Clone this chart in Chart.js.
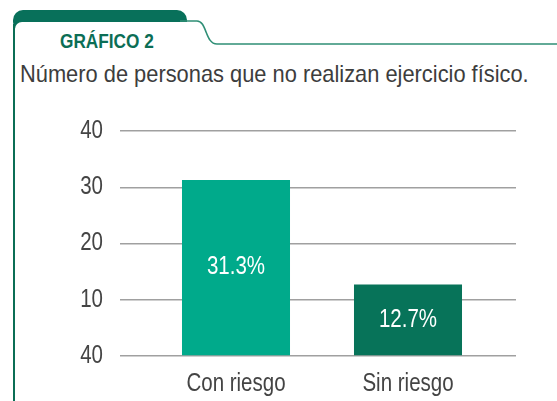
<!DOCTYPE html>
<html>
<head>
<meta charset="utf-8">
<script src="https://cdn.jsdelivr.net/npm/chart.js@4"></script>
<style>
    body { margin: 0; background: #fff; }
    #wrap { position: relative; width: 557px; height: 401px; overflow: hidden; }
    #frame { position: absolute; left: 0; top: 0; }
    #chart { position: absolute; left: 0; top: 0; }
    .txt { position: absolute; white-space: nowrap; font-family: "Liberation Sans", Arial, sans-serif; transform-origin: 0 0; }
    #kicker { left: 60px; top: 30px; font-size: 21px; line-height: 21px; font-weight: bold; color: #0b6e55; transform: scaleX(0.82); }
    #heading { left: 20px; top: 62px; font-size: 24px; line-height: 24px; color: #3d3d3d; transform: scaleX(0.91); }
</style>
</head>
<body>
<div id="wrap">
    <svg id="frame" width="557" height="401">
        <rect x="13" y="10" width="174" height="22" rx="10" fill="#08705a"></rect>
        <rect x="15" y="22" width="200" height="40" rx="7" fill="#fff"></rect>
        <line x1="14" y1="24" x2="14" y2="401" stroke="#0b6e55" stroke-width="2"></line>
        <path d="M180,21 L197,21 C207,21 205,44 217,44 L557,44" fill="none" stroke="#2f8f76" stroke-width="1.6"></path>
    </svg>
    <div class="txt" id="kicker">GRÁFICO 2</div>
    <div class="txt" id="heading">Número de personas que no realizan ejercicio físico.</div>
    <canvas id="chart" width="557" height="401"></canvas>
</div>
<script>
// Chart data
const categories = ['Con riesgo', 'Sin riesgo'];
const values = [31.3, 12.7];
const valueLabels = ['31.3%', '12.7%'];
const barColors = ['#00aa8b', '#077359'];
// tick labels as printed in the source (values 0, 10, 20, 30, 40)
const yTickLabels = ['40', '10', '20', '30', '40'];

const FONT = '"Liberation Sans", Arial, sans-serif';
const NARROW = 0.82;   // Arial Narrow is Arial squeezed to 82%
const GRID = '#a0a0a0';
const TEXT = '#444444';

/**
 * Draw a string squeezed horizontally around (x, y)
 */
function narrowText(ctx, text, x, y) {
    ctx.save();
    ctx.translate(x, y);
    ctx.scale(NARROW, 1);
    ctx.fillText(text, 0, 0);
    ctx.restore();
}

/**
 * Tick labels: the library lays them out, this redraws them narrow
 */
const narrowTicks = {
    id: 'narrowTicks',
    afterDraw(chart) {
        const ctx = chart.ctx;
        ['x', 'y'].forEach(id => {
            const scale = chart.scales[id];
            scale.getLabelItems().forEach(item => {
                const o = item.options;
                ctx.save();
                ctx.font = item.font.string;
                ctx.fillStyle = TEXT;
                ctx.textAlign = o.textAlign;
                ctx.textBaseline = o.textBaseline;
                const lines = [].concat(item.label);
                lines.forEach((line, i) => {
                    narrowText(ctx, line, o.translation[0], o.translation[1] + item.textOffset + i * item.font.lineHeight);
                });
                ctx.restore();
            });
        });
    }
};

/**
 * Value labels inside the bars
 */
const barLabels = {
    id: 'barLabels',
    afterDatasetsDraw(chart) {
        const ctx = chart.ctx;
        const meta = chart.getDatasetMeta(0);
        ctx.save();
        ctx.fillStyle = '#ffffff';
        ctx.font = '25px ' + FONT;
        ctx.textAlign = 'center';
        ctx.textBaseline = 'middle';
        meta.data.forEach((bar, i) => {
            narrowText(ctx, valueLabels[i], bar.x, (bar.y + bar.base) / 2);
        });
        ctx.restore();
    }
};

const yScale = (position, extra) => ({
    position: position,
    min: 0,
    max: 40,
    border: { display: false },
    grid: { color: GRID, lineWidth: 1.5, drawTicks: true, ...extra.grid },
    ticks: { stepSize: 10, ...extra.ticks },
    afterFit: extra.afterFit
});

new Chart(document.getElementById('chart'), {
    type: 'bar',
    data: {
        labels: categories,
        datasets: [{
            data: values,
            backgroundColor: barColors,
            categoryPercentage: 1,
            barPercentage: 0.628
        }]
    },
    options: {
        responsive: false,
        animation: false,
        layout: { padding: { left: 0, right: 41, top: 131, bottom: 0 } },
        plugins: {
            legend: { display: false },
            tooltip: { enabled: false }
        },
        scales: {
            x: {
                border: { display: false },
                grid: { display: false },
                ticks: {
                    color: 'transparent',
                    padding: 5,
                    maxRotation: 0,
                    font: { family: FONT, size: 25 }
                },
                afterFit: (s) => { s.height = 45; }
            },
            y: yScale('left', {
                grid: { tickLength: 30 },
                ticks: {
                    color: 'transparent',
                    padding: 17,
                    font: { family: FONT, size: 25 },
                    callback: (v) => yTickLabels[v / 10]
                },
                afterFit: (s) => { s.width = 150; }
            }),
            y2: yScale('right', {
                grid: { tickLength: 22, drawOnChartArea: false },
                ticks: { display: false },
                afterFit: (s) => { s.width = 22; }
            })
        }
    },
    plugins: [barLabels, narrowTicks]
});
</script>
</body>
</html>
